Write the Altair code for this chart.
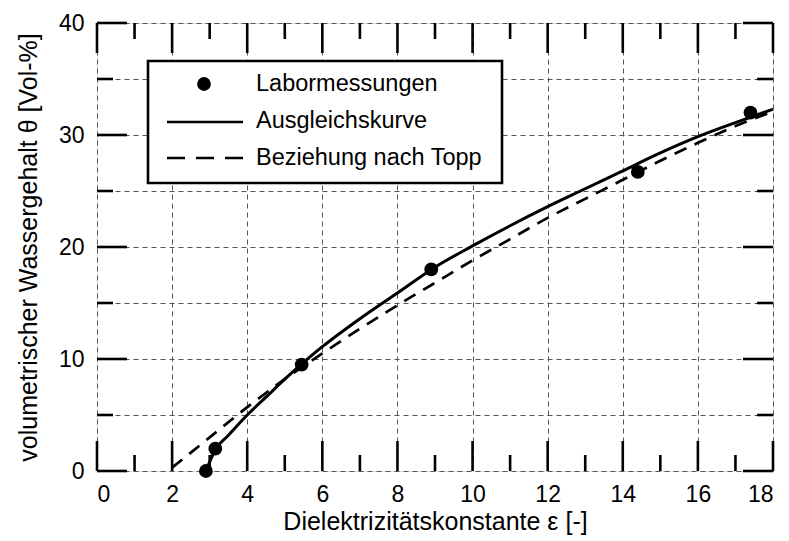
import altair as alt
import pandas as pd

# Laboratory measurements: dielectric constant vs. volumetric water content
eps_lab = [2.9, 3.15, 5.45, 8.9, 14.4, 17.4]
theta_lab = [0.0, 2.0, 9.5, 18.0, 26.7, 32.0]

# Fitted curve (Ausgleichskurve)
eps_fit = [2.9, 3.17, 3.5, 4.0, 4.5, 5.0, 5.5, 6.0, 7.0, 8.0, 9.0, 10.0,
           11.0, 12.0, 13.0, 14.0, 15.0, 16.0, 17.0, 18.0]
theta_fit = [0.0, 2.0, 3.2, 5.0, 6.6, 8.2, 9.7, 11.1, 13.6, 15.9, 18.2, 20.1,
             21.9, 23.6, 25.2, 26.8, 28.4, 29.85, 31.1, 32.3]

# Topp relationship (Beziehung nach Topp)
eps_topp = [2, 3, 4, 5, 6, 7, 8, 9, 10, 11, 12, 13, 14, 15, 16, 17, 18]
theta_topp = [0.3, 3.0, 5.7, 8.2, 10.5, 12.7, 14.8, 16.8, 18.8, 20.7, 22.6,
              24.3, 26.0, 27.7, 29.3, 30.8, 32.1]

legend_labels = ["Labormessungen", "Ausgleichskurve", "Beziehung nach Topp"]

x_title = "Dielektrizitätskonstante ε [-]"
y_title = "volumetrischer Wassergehalt θ [Vol-%]"

x_grid = list(range(0, 19))
y_grid = list(range(0, 41, 5))
x_major = [0, 2, 4, 6, 8, 10, 12, 14, 16, 18]
x_minor = [1, 3, 5, 7, 9, 11, 13, 15, 17]
y_major = [0, 10, 20, 30, 40]
y_minor = [5, 15, 25, 35]

W, H = 676, 448
FONT = "Liberation Sans"
MAJ, MIN = 30, 16

x_scale = alt.Scale(domain=[0, 18], nice=False, zero=False)
y_scale = alt.Scale(domain=[0, 40], nice=False, zero=False)

x_axis = alt.Axis(values=x_grid, title=x_title, grid=True, ticks=False, domain=False,
                  labelExpr="datum.value % 2 == 0 ? datum.label : ''",
                  labelFontSize=23, labelFont=FONT, labelColor="black", labelPadding=12,
                  titleFontSize=25, titleFont=FONT, titleFontWeight="normal",
                  titleColor="black", titlePadding=3,
                  gridDash=[5, 4], gridColor="#555555", gridWidth=1)
y_axis = alt.Axis(values=y_grid, title=y_title, grid=True, ticks=False, domain=False,
                  labelExpr="datum.value % 10 == 0 ? datum.label : ''",
                  labelFontSize=23, labelFont=FONT, labelColor="black", labelPadding=13,
                  titleFontSize=25, titleFont=FONT, titleFontWeight="normal",
                  titleColor="black", titlePadding=17,
                  gridDash=[5, 4], gridColor="#555555", gridWidth=1)

lab_df = pd.DataFrame({"eps": eps_lab, "theta": theta_lab})
fit_df = pd.DataFrame({"eps": eps_fit, "theta": theta_fit})
topp_df = pd.DataFrame({"eps": eps_topp, "theta": theta_topp})

fit_line = alt.Chart(fit_df).mark_line(color="black", strokeWidth=3, interpolate="monotone").encode(
    x=alt.X("eps:Q", scale=x_scale, axis=x_axis),
    y=alt.Y("theta:Q", scale=y_scale, axis=y_axis),
)
topp_line = alt.Chart(topp_df).mark_line(color="black", strokeWidth=2.7, strokeDash=[13, 9],
                                         interpolate="monotone").encode(
    x="eps:Q", y="theta:Q"
)
points = alt.Chart(lab_df).mark_point(filled=True, shape="circle", size=190, color="black", opacity=1).encode(
    x="eps:Q", y="theta:Q"
)


def xticks(vals, length):
    df = pd.DataFrame({"v": vals})
    bottom = alt.Chart(df).mark_rule(color="black", strokeWidth=2.6).encode(
        x="v:Q", y=alt.value(H), y2=alt.value(H - length))
    top = alt.Chart(df).mark_rule(color="black", strokeWidth=2.6).encode(
        x="v:Q", y=alt.value(0), y2=alt.value(length))
    return [bottom, top]


def yticks(vals, length):
    df = pd.DataFrame({"v": vals})
    left = alt.Chart(df).mark_rule(color="black", strokeWidth=2.6).encode(
        y="v:Q", x=alt.value(0), x2=alt.value(length))
    right = alt.Chart(df).mark_rule(color="black", strokeWidth=2.6).encode(
        y="v:Q", x=alt.value(W), x2=alt.value(W - length))
    return [left, right]


ticks = xticks(x_major, MAJ) + xticks(x_minor, MIN) + yticks(y_major, MAJ) + yticks(y_minor, MIN)

# Legend box drawn inside the plot area
one = pd.DataFrame({"k": [0]})
leg_box = alt.Chart(one).mark_rect(fill="white", stroke="black", strokeWidth=2.6).encode(
    x=alt.value(51), x2=alt.value(405), y=alt.value(38), y2=alt.value(160))
leg_dot = alt.Chart(one).mark_point(filled=True, shape="circle", size=190, color="black", opacity=1).encode(
    x=alt.value(107), y=alt.value(61))
leg_solid = alt.Chart(one).mark_rule(color="black", strokeWidth=2.6).encode(
    x=alt.value(70), x2=alt.value(146), y=alt.value(99))
leg_dash = alt.Chart(one).mark_rule(color="black", strokeWidth=2.6, strokeDash=[18, 11]).encode(
    x=alt.value(70), x2=alt.value(146), y=alt.value(135))

leg_texts = []
for i, lbl in enumerate(legend_labels):
    leg_texts.append(
        alt.Chart(pd.DataFrame({"label": [lbl]})).mark_text(
            align="left", baseline="middle", font=FONT, fontSize=23.5, color="black"
        ).encode(x=alt.value(159), y=alt.value(61 + 37 * i), text="label:N")
    )

chart = alt.layer(
    fit_line, topp_line, points, *ticks, leg_box, leg_dot, leg_solid, leg_dash, *leg_texts
).properties(
    width=W, height=H,
    padding={"left": 97, "top": 23, "right": 16, "bottom": 70},
    autosize=alt.AutoSizeParams(type="none"),
).configure_view(
    stroke="black", strokeWidth=3
).configure(background="white")

chart.save("out.html", embed_options={"renderer": "svg", "actions": False})
